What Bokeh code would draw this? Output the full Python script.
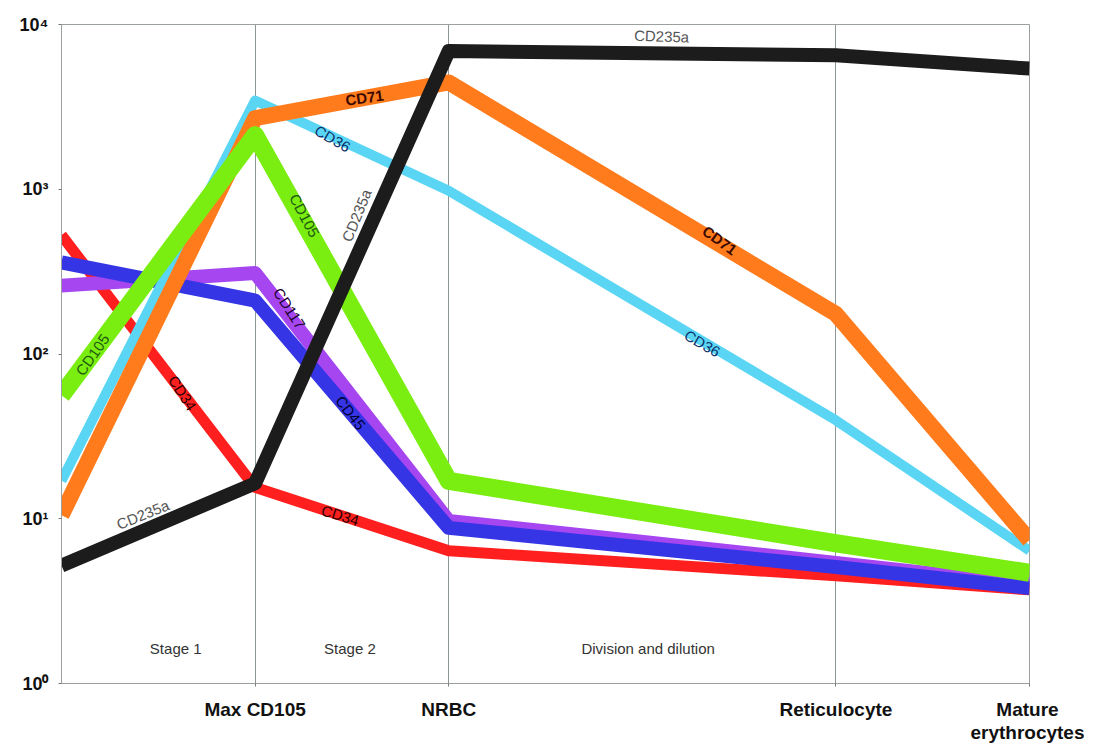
from bokeh.plotting import figure
from bokeh.models import FixedTicker, Range1d
from bokeh.core.properties import value
from bokeh.embed import file_html
from bokeh.resources import INLINE

# stages on x (0 = start, 1 = Max CD105, 2 = NRBC, 4 = Reticulocyte, 5 = Mature erythrocytes)
x_pos = [0, 1, 2, 4, 5]
x_tick_pos = [1, 2, 4, 5]
x_tick_labels = ["Max CD105", "NRBC", "Reticulocyte", "Mature\nerythrocytes"]
y_ticks = [1, 10, 100, 1000, 10000]
y_tick_labels = ["10\u2070", "10\u00b9", "10\u00b2", "10\u00b3", "10\u2074"]

cd34 = [526, 15.5, 6.4, 4.5, 3.7]
cd117 = [260, 310, 9.7, 5.4, 4.0]
cd45 = [360, 211, 8.8, 5.1, 3.8]
cd36 = [17, 3460, 980, 39.6, 6.4]
cd71 = [10.5, 2700, 4450, 175, 7.4]
cd105 = [56, 2130, 17, 7.1, 4.7]
cd235a = [5.2, 16.4, 6900, 6500, 5400]

stage_names = ["Stage 1", "Stage 2", "Division and dilution"]
stage_x = [0.59, 1.49, 3.03]
stage_y = [1.63, 1.63, 1.63]

# in-line labels: text, x, y, angle (deg), colour
lab_text = ["CD235a", "CD105", "CD34", "CD71", "CD36", "CD105", "CD235a",
            "CD117", "CD45", "CD34", "CD71", "CD36", "CD235a"]
lab_x = [0.42, 0.16, 0.625, 1.565, 1.40, 1.255, 1.524, 1.178, 1.493, 1.44, 3.40, 3.31, 3.10]
lab_y = [10.6, 99, 58, 3600, 2030, 693, 693, 189, 44, 10.5, 490, 116, 8500]
lab_ang = [22, 55, -57, 8, -30, -62, 68, -57, -52, -17, -36, -30, -2]
lab_col = ["#555555", "#1f5a10", "#2a0000", "#3a0a00", "#0b2f6a", "#1f5a10", "#555555",
           "#200030", "#000033", "#2a0000", "#3a0a00", "#0b2f6a", "#555555"]

p = figure(width=1084, height=745, y_axis_type="log",
           x_range=Range1d(0, 5), y_range=Range1d(1, 10000),
           output_backend="svg", toolbar_location=None,
           min_border_left=61, min_border_right=55, min_border_top=24, min_border_bottom=62)
p.background_fill_color = "white"
p.outline_line_color = "#9aa0a0"
p.ygrid.visible = False
p.xgrid.ticker = FixedTicker(ticks=x_tick_pos)
p.xgrid.grid_line_color = "#8f9696"
p.xgrid.grid_line_width = 1

p.xaxis.ticker = FixedTicker(ticks=x_tick_pos)
p.xaxis.major_label_overrides = {k: v for k, v in zip(x_tick_pos, x_tick_labels)}
p.yaxis.ticker = FixedTicker(ticks=y_ticks)
p.yaxis.major_label_overrides = {k: v for k, v in zip(y_ticks, y_tick_labels)}
for ax in (p.xaxis, p.yaxis):
    ax.axis_line_color = "#9aa0a0"
    ax.major_tick_line_color = "#777777"
    ax.major_tick_in = 0
    ax.major_tick_out = 3
    ax.minor_tick_line_color = None
    ax.major_label_text_font = "Liberation Sans"
    ax.major_label_text_font_style = "bold"
    ax.major_label_text_color = "#111111"
p.xaxis.major_label_text_font_size = "19px"
p.xaxis.major_label_text_line_height = 1.1
p.yaxis.major_label_text_font_size = "18px"
p.xaxis.major_label_standoff = 12
p.yaxis.major_label_standoff = 10

series = [
    (cd34, "#ff1f1f", 11),
    (cd117, "#a546f0", 14),
    (cd45, "#3535e6", 14),
    (cd36, "#5ad6f4", 10),
    (cd71, "#ff7b1c", 16),
    (cd105, "#7aee10", 18),
    (cd235a, "#1c1c1c", 14),
]
for ys, col, w in series:
    p.line(x_pos, ys, line_color=col, line_width=w, line_join="round", line_cap="butt")

for i in range(len(lab_text)):
    p.text([lab_x[i]], [lab_y[i]], text=[lab_text[i]], angle=lab_ang[i], angle_units="deg",
           text_align="center", text_baseline="middle",
           text_font=value("Liberation Sans"), text_font_size="15px",
           text_font_style="bold" if lab_text[i] == "CD71" else "normal",
           text_color=lab_col[i])

p.text(stage_x, stage_y, text=stage_names, text_align="center", text_baseline="middle",
       text_font=value("Liberation Sans"), text_font_size="15px", text_color="#333333")

open("out.html", "w").write(file_html(p, INLINE))
